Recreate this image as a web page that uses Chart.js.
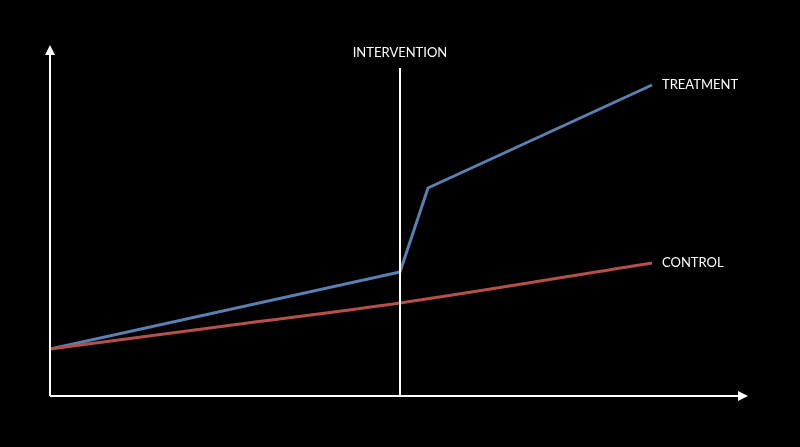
<!DOCTYPE html>
<html><head><meta charset="utf-8">
<script src="https://cdn.jsdelivr.net/npm/chart.js@4"></script>
<style>html,body{margin:0;background:#000;}#w{width:800px;height:447px;}</style>
</head><body><div id="w"><canvas id="c"></canvas></div>
<script>
const treatmentX=[0,350,378,602];
const treatmentY=[47,124,208,311];
const controlX=[0,175,350,602];
const controlY=[47,70,93,133];
const interventionX=350;
const labels={treatment:"TREATMENT",control:"CONTROL",intervention:"INTERVENTION"};

const overlay={id:'overlay',afterDraw(ch){
  const c=ch.ctx,xs=ch.scales.x,ys=ch.scales.y;
  const x0=xs.getPixelForValue(0),y0=ys.getPixelForValue(0);
  c.save();c.strokeStyle='#fff';c.fillStyle='#fff';c.lineWidth=2;
  c.beginPath();c.moveTo(x0,y0);c.lineTo(x0,ys.top+6);c.stroke();
  c.beginPath();c.moveTo(x0,y0);c.lineTo(xs.getPixelForValue(698)-6,y0);c.stroke();
  c.beginPath();c.moveTo(x0,ys.top);c.lineTo(x0-5,ys.top+10);c.lineTo(x0+5,ys.top+10);c.fill();
  const xe=xs.getPixelForValue(698);
  c.beginPath();c.moveTo(xe,y0);c.lineTo(xe-10,y0-5);c.lineTo(xe-10,y0+5);c.fill();
  const xi=xs.getPixelForValue(interventionX);
  c.beginPath();c.moveTo(xi,y0);c.lineTo(xi,ys.getPixelForValue(328));c.stroke();
  c.font='13px Lato';c.textBaseline='middle';
  c.textAlign='center';c.fillText(labels.intervention,xi,53);
  c.textAlign='left';
  c.fillText(labels.treatment,xs.getPixelForValue(612),ys.getPixelForValue(311));
  c.fillText(labels.control,xs.getPixelForValue(612),ys.getPixelForValue(133));
  c.restore();
}};
new Chart(document.getElementById('c'),{
  type:'line',
  data:{datasets:[
    {data:controlX.map((x,i)=>({x,y:controlY[i]})),borderColor:'#b5504b',borderWidth:3,pointRadius:0,cubicInterpolationMode:'monotone'},
    {data:treatmentX.map((x,i)=>({x,y:treatmentY[i]})),borderColor:'#5b80b2',borderWidth:3,pointRadius:0,tension:0}
  ]},
  options:{responsive:true,maintainAspectRatio:false,animation:false,
    layout:{padding:{left:50,right:50,top:45,bottom:51}},
    plugins:{legend:{display:false},tooltip:{enabled:false}},
    scales:{x:{type:'linear',min:0,max:700,display:false},y:{min:0,max:351,display:false}}},
  plugins:[overlay]
});
</script></body></html>
